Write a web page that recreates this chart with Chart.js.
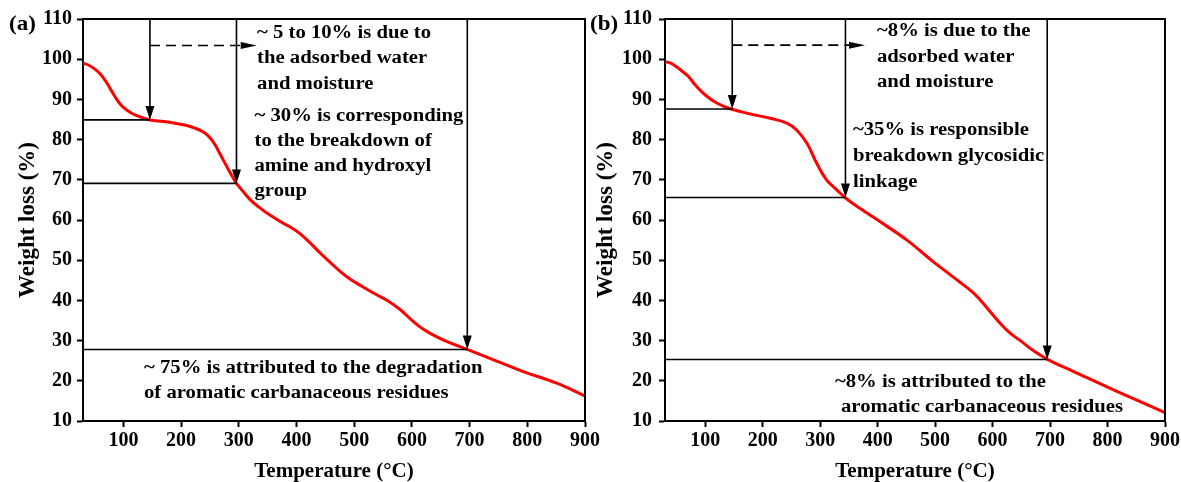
<!DOCTYPE html>
<html><head><meta charset="utf-8">
<script src="https://cdn.jsdelivr.net/npm/chart.js@4/dist/chart.umd.min.js"></script>
<style>
html,body{margin:0;padding:0;background:#fff;overflow:hidden;width:1181px;height:482px;position:relative;}
canvas{position:absolute;top:0;}
#ca{left:0}
#cb{left:590px}
</style></head><body>
<canvas id="ca" width="605" height="482"></canvas>
<canvas id="cb" width="600" height="482"></canvas>
<script>
// ---- data ----
const xTicks = [100, 200, 300, 400, 500, 600, 700, 800, 900];
const yTicks = [10, 20, 30, 40, 50, 60, 70, 80, 90, 100, 110];

const tempA   = [30, 40, 50, 60, 70, 80, 90, 100, 115, 130, 146, 170, 192, 210, 225, 237, 248, 258, 268, 278, 288, 296, 308, 320, 335, 350, 377, 392, 406, 420, 441, 458, 475, 492, 510, 535, 556, 579, 602, 620, 637, 660, 696, 735, 793, 851, 900];
const weightA = [99.0, 98.5, 97.6, 96.3, 94.4, 92.0, 89.7, 88.0, 86.5, 85.6, 84.9, 84.5, 84.0, 83.5, 82.8, 82.0, 80.8, 78.9, 76.3, 73.6, 71.0, 69.1, 67.0, 65.0, 63.2, 61.6, 59.2, 58.0, 56.6, 54.8, 51.8, 49.5, 47.3, 45.4, 43.8, 41.7, 40.1, 37.8, 34.8, 32.8, 31.4, 29.8, 27.8, 25.6, 22.3, 19.4, 16.2];

const tempB   = [30, 40, 50, 60, 70, 85, 100, 120, 145, 178, 213, 242, 259, 277, 294, 311, 329, 343, 369, 404, 451, 497, 538, 567, 590, 610, 630, 650, 670, 697, 741, 799, 857, 900];
const weightB = [99.4, 99.0, 98.1, 97.0, 95.8, 93.2, 91.1, 89.1, 87.6, 86.4, 85.3, 84.1, 82.4, 79.1, 74.1, 70.0, 67.5, 65.6, 62.9, 59.6, 55.0, 49.6, 45.1, 41.8, 38.2, 34.8, 31.9, 29.8, 27.6, 25.2, 22.3, 18.5, 14.8, 12.1];

const markTempA   = [146, 296, 696];
const markWeightA = [84.9, 69.1, 27.8];
const markTempB   = [147, 344, 695];
const markWeightB = [87.6, 65.6, 25.3];

const dashA = [146, 331, 103.4];   // from temp, to temp, weight
const dashB = [147, 378, 103.5];

const notesA = [
  ["~ 5 to 10% is due to", 331.6, 106.8],
  ["the adsorbed water", 331.6, 100.4],
  ["and moisture", 331.6, 94.1],
  ["~ 30% is corresponding", 327.2, 86.1],
  ["to the breakdown of", 327.2, 79.9],
  ["amine and hydroxyl", 327.2, 73.7],
  ["group", 327.2, 67.5],
  ["~ 75% is attributed to the degradation", 135.7, 23.4],
  ["of aromatic carbanaceous residues", 135.7, 17.2]
];
const notesB = [
  ["~8% is due to the", 398.9, 107.1],
  ["adsorbed water", 398.9, 100.8],
  ["and moisture", 398.9, 94.4],
  ["~35% is responsible", 357.1, 82.6],
  ["breakdown glycosidic", 357.1, 76.2],
  ["linkage", 357.1, 69.7],
  ["~8% is attributed to the", 325.8, 19.8],
  ["aromatic carbanaceous residues", 336.2, 13.6]
];

// ---- styling ----
const FONT = '"Liberation Serif","Times New Roman",serif';
const STRETCH = 1.15;

function stretchedText(ctx, text, x, y, size) {
  ctx.save();
  ctx.font = 'bold ' + size + 'px ' + FONT;
  ctx.fillStyle = '#000';
  ctx.textAlign = 'left';
  ctx.textBaseline = 'middle';
  ctx.translate(x, y);
  ctx.scale(STRETCH, 1);
  ctx.fillText(text, 0, 0);
  ctx.restore();
}

function makeAnnot(label, labelX, markT, markW, dash, notes) {
  return {
    id: 'annot' + label,
    afterDatasetsDraw(chart) {
      const ctx = chart.ctx, xs = chart.scales.x, ys = chart.scales.y, ca = chart.chartArea;
      ctx.save();
      ctx.strokeStyle = '#000';
      ctx.fillStyle = '#000';
      ctx.lineWidth = 1.6;
      for (let i = 0; i < markT.length; i++) {
        const px = xs.getPixelForValue(markT[i]);
        const py = ys.getPixelForValue(markW[i]);
        ctx.beginPath(); ctx.moveTo(ca.left, py); ctx.lineTo(px, py); ctx.stroke();
        ctx.beginPath(); ctx.moveTo(px, ca.top); ctx.lineTo(px, py - 10); ctx.stroke();
        ctx.beginPath(); ctx.moveTo(px, py); ctx.lineTo(px - 4.5, py - 14); ctx.lineTo(px + 4.5, py - 14); ctx.closePath(); ctx.fill();
      }
      const dx0 = xs.getPixelForValue(dash[0]), dx1 = xs.getPixelForValue(dash[1]), dy = ys.getPixelForValue(dash[2]);
      ctx.setLineDash([10, 6]);
      ctx.beginPath(); ctx.moveTo(dx0, dy); ctx.lineTo(dx1 - 16, dy); ctx.stroke();
      ctx.setLineDash([]);
      ctx.beginPath(); ctx.moveTo(dx1, dy); ctx.lineTo(dx1 - 16, dy - 3.5); ctx.lineTo(dx1 - 16, dy + 3.5); ctx.closePath(); ctx.fill();
      ctx.restore();
      notes.forEach(n => stretchedText(ctx, n[0], xs.getPixelForValue(n[1]), ys.getPixelForValue(n[2]) + 1, 18));
    },
    afterDraw(chart) {
      const ctx = chart.ctx, ca = chart.chartArea;
      ctx.save();
      ctx.strokeStyle = '#000';
      ctx.lineWidth = 2;
      ctx.beginPath();
      ctx.moveTo(ca.left - 1, ca.top); ctx.lineTo(ca.right, ca.top); ctx.lineTo(ca.right, ca.bottom + 1);
      ctx.stroke();
      ctx.restore();
      stretchedText(ctx, label, labelX, 25, 20);
    }
  };
}

function makeChart(id, temps, weights, cfg) {
  const pts = temps.map((t, i) => ({x: t, y: weights[i]}));
  return new Chart(document.getElementById(id), {
    type: 'line',
    data: { datasets: [{ data: pts, borderColor: '#ff0000', borderWidth: 3, pointRadius: 0, tension: 0.4, fill: false }] },
    options: {
      responsive: false,
      animation: false,
      events: [],
      layout: { padding: { left: 0, right: cfg.padRight, top: 19, bottom: 0 } },
      plugins: { legend: { display: false }, tooltip: { enabled: false } },
      scales: {
        x: {
          type: 'linear', min: 30, max: 900,
          afterBuildTicks: s => { s.ticks = xTicks.map(v => ({value: v})); },
          afterFit: s => { s.height = 61; },
          ticks: { color: '#000', font: { family: FONT, weight: 'bold', size: 20 }, padding: 2, maxRotation: 0 },
          grid: { drawOnChartArea: false, drawTicks: true, tickLength: 6, tickWidth: 2, tickColor: '#000' },
          border: { display: true, color: '#000', width: 2 },
          title: { display: true, text: 'Temperature (°C)', color: '#000', font: { family: FONT, weight: 'bold', size: 21, lineHeight: 1 }, padding: { top: 0, bottom: 0 } }
        },
        y: {
          type: 'linear', min: 10, max: 110,
          afterBuildTicks: s => { s.ticks = yTicks.map(v => ({value: v})); },
          afterFit: s => { s.width = cfg.yWidth; },
          ticks: { color: '#000', font: { family: FONT, weight: 'bold', size: 20 }, padding: cfg.yPad },
          grid: { drawOnChartArea: false, drawTicks: true, tickLength: 6, tickWidth: 2, tickColor: '#000' },
          border: { display: true, color: '#000', width: 2 },
          title: { display: true, text: 'Weight loss (%)', color: '#000', font: { family: FONT, weight: 'bold', size: 23, lineHeight: 1 }, padding: { top: cfg.titlePad, bottom: 0 } }
        }
      }
    },
    plugins: [cfg.annot]
  });
}

makeChart('ca', tempA, weightA, { padRight: 20, yWidth: 83, yPad: 5, titlePad: 17,
  annot: makeAnnot('(a)', 9, markTempA, markWeightA, dashA, notesA) });
makeChart('cb', tempB, weightB, { padRight: 25, yWidth: 75, yPad: 7, titlePad: 5,
  annot: makeAnnot('(b)', 0, markTempB, markWeightB, dashB, notesB) });
</script>
</body></html>
